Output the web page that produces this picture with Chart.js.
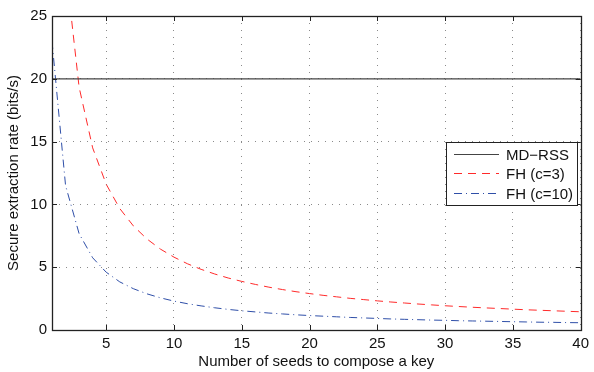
<!DOCTYPE html>
<html>
<head>
<meta charset="utf-8">
<script src="https://cdn.jsdelivr.net/npm/chart.js@4.4.1/dist/chart.umd.min.js"></script>
<style>
  html, body { margin: 0; padding: 0; background: #fff; }
  #wrap { width: 594px; height: 372px; }
</style>
</head>
<body>
<div id="wrap"><canvas id="c" width="594" height="372"></canvas></div>
<script>
// number of seeds (x) and rates
const seeds = [1,2,3,4,5,6,7,8,9,10,11,12,13,14,15,16,17,18,19,20,
               21,22,23,24,25,26,27,28,29,30,31,32,33,34,35,36,37,38,39,40];
const mdRss = [20, 20];
const mdRssX = [1, 40];
const fhC3 = [58, 29, 19.33, 14.5, 11.6, 9.67, 8.29, 7.25, 6.44, 5.8,
              5.27, 4.83, 4.46, 4.14, 3.87, 3.63, 3.41, 3.22, 3.05, 2.9,
              2.76, 2.64, 2.52, 2.42, 2.32, 2.23, 2.15, 2.07, 2.0, 1.93,
              1.87, 1.81, 1.76, 1.71, 1.66, 1.61, 1.57, 1.53, 1.49, 1.45];
const fhC10 = [23, 11.5, 7.67, 5.75, 4.6, 3.83, 3.29, 2.88, 2.56, 2.3,
               2.09, 1.92, 1.77, 1.64, 1.53, 1.44, 1.35, 1.28, 1.21, 1.15,
               1.1, 1.05, 1.0, 0.96, 0.92, 0.88, 0.85, 0.82, 0.79, 0.77,
               0.74, 0.72, 0.7, 0.68, 0.66, 0.64, 0.62, 0.61, 0.59, 0.58];
const xTicks = [5, 10, 15, 20, 25, 30, 35, 40];
const yTicks = [0, 5, 10, 15, 20, 25];

const FONT = "'Liberation Sans', Arial, sans-serif";
const pts = (xs, ys) => xs.map((x, i) => ({ x: x, y: ys[i] }));

// matlab style box, inner ticks and legend
const matlabBox = {
  id: "matlabBox",
  afterDraw(chart) {
    const { ctx, chartArea: a, scales } = chart;
    ctx.save();
    ctx.strokeStyle = "#222";
    ctx.lineWidth = 1;
    ctx.beginPath();
    xTicks.forEach(v => {
      const px = Math.round(scales.x.getPixelForValue(v)) + 0.5;
      ctx.moveTo(px, a.bottom); ctx.lineTo(px, a.bottom - 5);
      ctx.moveTo(px, a.top); ctx.lineTo(px, a.top + 5);
    });
    yTicks.forEach(v => {
      const py = Math.round(scales.y.getPixelForValue(v)) + 0.5;
      ctx.moveTo(a.left, py); ctx.lineTo(a.left + 5, py);
      ctx.moveTo(a.right, py); ctx.lineTo(a.right - 5, py);
    });
    ctx.stroke();
    ctx.lineWidth = 1.3;
    ctx.strokeRect(Math.round(a.left) + 0.5, Math.round(a.top) + 0.5,
                   Math.round(a.right - a.left), Math.round(a.bottom - a.top));

    // legend box
    ctx.lineWidth = 1;
    const lx = 446.5, ly = 142.5, lw = 131, lh = 63;
    ctx.fillStyle = "#fff";
    ctx.fillRect(lx, ly, lw, lh);
    ctx.strokeStyle = "#222";
    ctx.strokeRect(lx, ly, lw, lh);
    ctx.font = "15px " + FONT;
    ctx.textBaseline = "middle";
    chart.data.datasets.forEach((ds, i) => {
      const y = Math.round(ly + 11 + i * 19.5) + 0.5;
      ctx.strokeStyle = ds.borderColor;
      ctx.lineWidth = ds.borderWidth;
      ctx.setLineDash(ds.borderDash || []);
      ctx.beginPath();
      ctx.moveTo(454, y); ctx.lineTo(499, y);
      ctx.stroke();
      ctx.setLineDash([]);
      ctx.fillStyle = "#111";
      ctx.fillText(ds.label, 506, y + 1);
    });
    ctx.restore();
  }
};

new Chart(document.getElementById("c"), {
  type: "line",
  data: {
    datasets: [
      { label: "MD\u2212RSS", data: pts(mdRssX, mdRss), borderColor: "#444", borderWidth: 1.2 },
      { label: "FH (c=3)", data: pts(seeds, fhC3), borderColor: "#ff2a2a", borderWidth: 1, borderDash: [8, 6] },
      { label: "FH (c=10)", data: pts(seeds, fhC10), borderColor: "#2f4fa8", borderWidth: 1, borderDash: [8, 4, 1, 4] }
    ]
  },
  options: {
    responsive: false,
    animation: false,
    events: [],
    elements: { point: { radius: 0 }, line: { tension: 0 } },
    layout: { padding: { top: 16, right: 10, left: 0, bottom: 0 } },
    plugins: { legend: { display: false }, tooltip: { enabled: false } },
    scales: {
      x: {
        type: "linear", min: 1, max: 40,
        afterBuildTicks: s => { s.ticks = xTicks.map(v => ({ value: v })); },
        afterFit: s => { s.height = 42; },
        grid: { color: "#8a8a8a", drawTicks: false },
        border: { display: false, dash: [1, 6] },
        ticks: { color: "#111", font: { family: FONT, size: 15 }, padding: 5, maxRotation: 0 },
        title: { display: true, text: "Number of seeds to compose a key", color: "#111",
                 font: { family: FONT, size: 15 }, padding: { top: 2, bottom: 1 } }
      },
      y: {
        min: 0, max: 25,
        afterBuildTicks: s => { s.ticks = yTicks.map(v => ({ value: v })); },
        afterFit: s => { s.width = 52; },
        grid: { color: "#8a8a8a", drawTicks: false },
        border: { display: false, dash: [1, 6] },
        ticks: { color: "#111", font: { family: FONT, size: 15 }, padding: 5 },
        title: { display: true, text: "Secure extraction rate (bits/s)", color: "#111",
                 font: { family: FONT, size: 15 }, padding: { top: 5, bottom: 0 } }
      }
    }
  },
  plugins: [matlabBox]
});
</script>
</body>
</html>
